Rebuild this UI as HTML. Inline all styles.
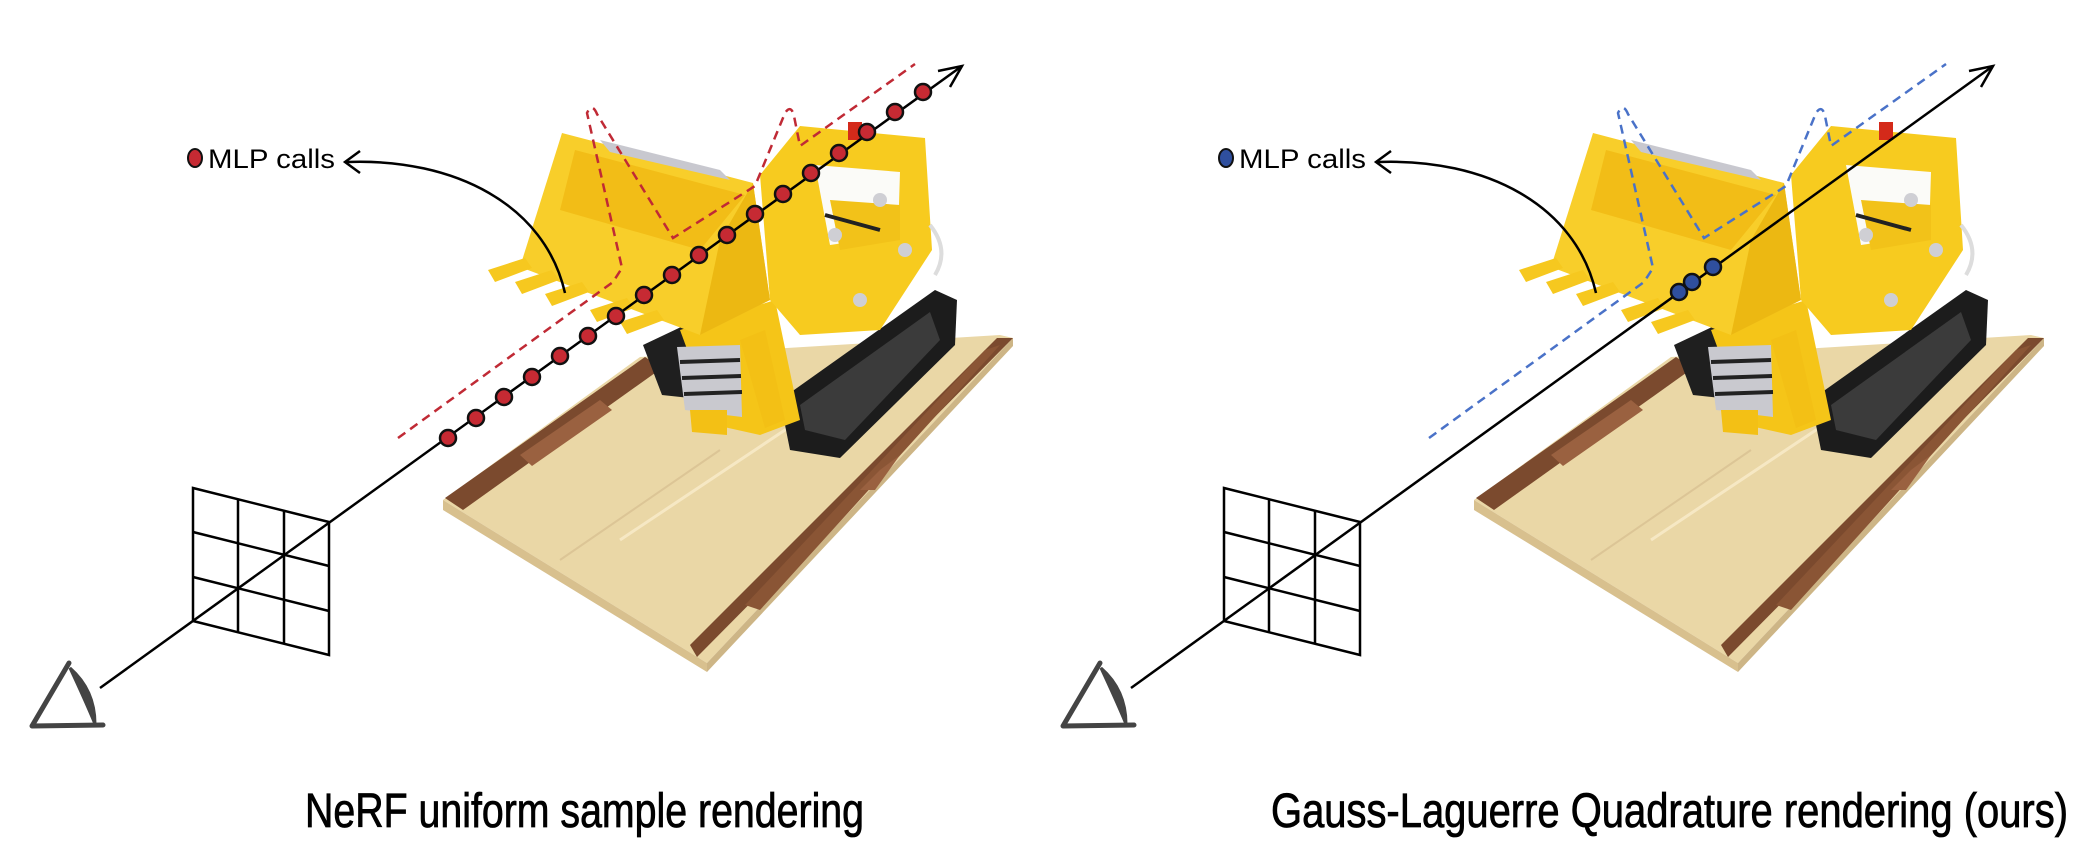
<!DOCTYPE html>
<html><head><meta charset="utf-8"><style>
html,body{margin:0;padding:0;background:#fff;}
svg{display:block;}
</style></head><body>
<svg width="2088" height="866" viewBox="0 0 2088 866" xmlns="http://www.w3.org/2000/svg">
<defs>
<g id="scene">
  <!-- base plate -->
  <polygon points="443,500 640,357 1000,335 1013,338 707,663" fill="#ead7a6"/>
  <polygon points="443,500 707,663 707,672 443,510" fill="#d8c08e"/>
  <polygon points="707,663 1013,338 1013,346 707,672" fill="#cdb586"/>
  <line x1="620" y1="540" x2="800" y2="420" stroke="#f6e8c4" stroke-width="3"/>
  <line x1="560" y1="560" x2="720" y2="450" stroke="#dcc596" stroke-width="2"/>
  <!-- brown strips -->
  <polygon points="445,498 645,357 662,368 463,510" fill="#7b4a2e"/>
  <polygon points="520,455 600,400 612,410 532,466" fill="#9a6140"/>
  <polygon points="997,338 1013,338 697,657 690,645" fill="#7b4a2e"/>
  <polygon points="985,350 1000,345 760,610 745,605" fill="#8a5535"/>
  <polygon points="880,470 900,455 875,490 860,490" fill="#9a6140"/>
  <!-- tracks -->
  <polygon points="643,345 700,318 720,380 690,398 662,395" fill="#1f1f1f"/>
  <polygon points="780,400 935,290 957,300 955,345 840,458 790,450" fill="#1c1c1c"/>
  <polygon points="800,405 930,312 940,340 845,440 805,430" fill="#555" opacity="0.55"/>
  <!-- front column -->
  <polygon points="680,330 775,300 800,420 760,435 715,425" fill="#f5c518"/>
  <polygon points="677,347 740,345 742,417 685,410" fill="#c9c9cf"/>
  <line x1="680" y1="362" x2="740" y2="360" stroke="#222" stroke-width="4"/>
  <line x1="682" y1="378" x2="741" y2="376" stroke="#222" stroke-width="4"/>
  <line x1="684" y1="394" x2="742" y2="392" stroke="#222" stroke-width="4"/>
  <polygon points="690,410 727,410 727,435 692,432" fill="#f3c015"/>
  <polygon points="740,340 765,330 785,420 765,428" fill="#f3c015"/>
  <!-- cab -->
  <polygon points="760,175 800,126 925,138 932,250 880,330 800,335 770,300" fill="#f7cb1f"/>
  <polygon points="815,165 900,172 898,235 830,245" fill="#fbfbf8"/>
  <polygon points="830,200 900,205 900,240 840,250" fill="#f2c219"/>
  <rect x="848" y="122" width="14" height="18" fill="#d42a1a"/>
  <circle cx="880" cy="200" r="7" fill="#cfcfd4"/>
  <circle cx="835" cy="235" r="7" fill="#cfcfd4"/>
  <circle cx="905" cy="250" r="7" fill="#cfcfd4"/>
  <circle cx="860" cy="300" r="7" fill="#cfcfd4"/>
  <line x1="825" y1="215" x2="880" y2="230" stroke="#222" stroke-width="4"/>
  <path d="M930,225 Q950,250 935,275" stroke="#ddd" stroke-width="4" fill="none"/>
  <!-- bucket -->
  <polygon points="562,133 753,183 770,300 700,335 520,267" fill="#f8ce2a"/>
  <polygon points="575,150 745,195 700,250 560,210" fill="#f2bd17"/>
  <polygon points="753,183 770,300 700,335 720,240" fill="#ecb812"/>
  <polygon points="600,140 720,170 730,180 610,152" fill="#c8c8cf"/>
  <g fill="#f6c81f">
    <polygon points="488,270 525,258 532,268 495,282"/>
    <polygon points="515,282 552,270 559,280 522,294"/>
    <polygon points="545,294 582,282 589,292 552,306"/>
    <polygon points="590,310 627,298 634,308 597,322"/>
    <polygon points="620,322 657,310 664,320 627,334"/>
  </g>
</g>
<g id="frame">
  <g stroke="#444" fill="none" stroke-linecap="round" stroke-linejoin="round">
    <polyline points="69,663 32,726 103,725" stroke-width="5"/>
  </g>
  <path d="M70,668 Q95,690 95,724 Q85,700 70,668 Z" fill="#444" stroke="#444" stroke-width="3"/>
  <line x1="100" y1="688" x2="962" y2="66" stroke="#000" stroke-width="2.5"/>
  <path d="M938,71 L962,66 L950,87" stroke="#000" stroke-width="2.5" fill="none"/>
  <g stroke="#000" stroke-width="2.5" fill="none">
    <polygon points="193,488 329,522 329,655 193,621"/>
    <line x1="238" y1="499" x2="238" y2="632"/>
    <line x1="284" y1="511" x2="284" y2="644"/>
    <line x1="193" y1="532" x2="329" y2="566"/>
    <line x1="193" y1="577" x2="329" y2="611"/>
  </g>
  <text x="208" y="168" font-family="Liberation Sans, sans-serif" font-size="27" textLength="127" lengthAdjust="spacingAndGlyphs">MLP calls</text>
  <path d="M565,293 C545,205 455,158 347,162" stroke="#000" stroke-width="2.5" fill="none"/>
  <path d="M360,151 L345,162 L360,173" stroke="#000" stroke-width="2.5" fill="none"/>
</g>
</defs>

<!-- LEFT PANEL -->
<use href="#scene"/>
<use href="#frame"/>
<path d="M398,438 L613,282 L622,268 L587,113 Q592,102 597,114 L673,238 L755,186 L785,113 Q791,104 794,116 L800,146 L915,64" stroke="#c02a35" stroke-width="2.5" fill="none" stroke-dasharray="9 6"/>
<g fill="#c62a33" stroke="#111" stroke-width="2.5">
  <circle cx="448" cy="438" r="8"/><circle cx="476" cy="418" r="8"/><circle cx="504" cy="397" r="8"/>
  <circle cx="532" cy="377" r="8"/><circle cx="560" cy="356" r="8"/><circle cx="588" cy="336" r="8"/>
  <circle cx="616" cy="316" r="8"/><circle cx="644" cy="295" r="8"/><circle cx="672" cy="275" r="8"/>
  <circle cx="699" cy="255" r="8"/><circle cx="727" cy="235" r="8"/><circle cx="755" cy="214" r="8"/>
  <circle cx="783" cy="194" r="8"/><circle cx="811" cy="173" r="8"/><circle cx="839" cy="153" r="8"/>
  <circle cx="867" cy="132" r="8"/><circle cx="895" cy="112" r="8"/><circle cx="923" cy="92" r="8"/>
</g>
<ellipse cx="195" cy="158" rx="7" ry="9" fill="#c62a33" stroke="#111" stroke-width="2"/>

<!-- RIGHT PANEL -->
<g transform="translate(1031,0)">
<use href="#scene"/>
<use href="#frame"/>
<path d="M398,438 L613,282 L622,268 L587,113 Q592,102 597,114 L673,238 L755,186 L785,113 Q791,104 794,116 L800,146 L915,64" stroke="#4a72c8" stroke-width="2.5" fill="none" stroke-dasharray="9 6"/>
<g fill="#2f4f9e" stroke="#111" stroke-width="2.5">
  <circle cx="648" cy="292" r="8"/><circle cx="661" cy="282" r="8"/><circle cx="682" cy="267" r="8"/>
</g>
<ellipse cx="195" cy="158" rx="7" ry="9" fill="#2f4f9e" stroke="#111" stroke-width="2"/>
</g>

<!-- captions -->
<text x="305" y="827" font-family="Liberation Sans, sans-serif" font-size="48" stroke="#000" stroke-width="0.8" textLength="559" lengthAdjust="spacingAndGlyphs">NeRF uniform sample rendering</text>
<text x="1271" y="827" font-family="Liberation Sans, sans-serif" font-size="48" stroke="#000" stroke-width="0.8" textLength="797" lengthAdjust="spacingAndGlyphs">Gauss-Laguerre Quadrature rendering (ours)</text>
</svg>
</body></html>
